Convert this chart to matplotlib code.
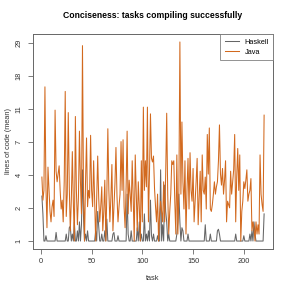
import numpy as np
import matplotlib as mpl
mpl.use('Agg')
import matplotlib.pyplot as plt

plt.rcParams['font.family'] = ['Liberation Sans', 'DejaVu Sans']

# mean lines of code per task
haskell = [2.7, 1.9, 1.0, 1.0, 1.15, 1.0, 1.0, 1.0, 1.0, 1.0,
           1.0, 1.0, 1.0, 1.0, 1.25, 1.0, 1.0, 1.0, 1.0, 1.0,
           1.0, 1.0, 1.0, 1.0, 1.2, 1.0, 1.0, 1.4, 1.45, 1.0,
           1.2, 1.0, 1.6, 1.0, 1.0, 1.3, 1.0, 1.6, 1.0, 1.5,
           4.3, 1.8, 1.0, 1.2, 1.0, 1.3, 1.0, 1.0, 1.0, 1.0,
           1.0, 1.0, 1.0, 1.3, 1.0, 2.0, 1.45, 1.0, 1.0, 1.2,
           1.0, 1.0, 1.3, 1.0, 1.7, 1.0, 1.0, 1.0, 1.0, 1.0,
           1.2, 1.25, 1.0, 1.0, 1.0, 1.15, 1.0, 1.0, 1.0, 1.0,
           1.0, 1.0, 1.0, 1.0, 2.8, 1.2, 1.0, 1.0, 1.3, 1.0,
           1.0, 1.0, 1.0, 1.0, 1.4, 1.0, 1.6, 1.0, 1.2, 1.0,
           1.0, 1.9, 1.0, 1.2, 1.0, 1.3, 1.0, 2.5, 1.15, 1.0,
           1.2, 1.0, 1.0, 1.0, 1.15, 1.0, 1.0, 4.3, 1.0, 1.5,
           1.0, 3.3, 2.0, 1.6, 1.0, 1.2, 1.0, 1.0, 1.0, 1.0,
           1.0, 1.0, 1.0, 1.2, 1.6, 2.8, 1.6, 1.0, 1.4, 1.3,
           1.0, 1.0, 1.0, 1.0, 1.2, 1.0, 1.0, 1.0, 1.0, 1.0,
           1.0, 1.0, 1.0, 1.0, 1.0, 1.0, 1.0, 1.0, 1.0, 1.0,
           1.0, 1.5, 1.0, 1.0, 1.0, 1.0, 1.2, 1.0, 1.0, 1.0,
           1.0, 1.0, 1.0, 1.3, 1.35, 1.2, 1.0, 1.0, 1.0, 1.0,
           1.0, 1.0, 1.0, 1.0, 1.0, 1.0, 1.0, 1.0, 1.0, 1.0,
           1.0, 1.2, 1.0, 1.0, 1.0, 1.0, 1.0, 1.0, 1.0, 1.15,
           1.0, 1.0, 1.0, 1.0, 1.0, 1.2, 1.0, 1.3, 1.0, 1.6,
           1.2, 1.0, 1.0, 1.0, 1.0, 1.0, 1.0, 1.0, 1.0, 1.9]

java = [3.8, 2.5, 3.0, 15.5, 3.2, 1.4, 4.5, 3.0, 2.0, 1.6,
        2.2, 2.5, 1.8, 11.0, 4.2, 3.5, 4.0, 4.6, 3.0, 2.1,
        2.5, 1.6, 3.5, 14.5, 1.8, 2.8, 10.6, 3.2, 1.3, 2.5,
        5.8, 2.4, 1.0, 10.0, 3.0, 1.5, 2.6, 8.0, 3.5, 1.9,
        28.0, 3.0, 1.0, 3.5, 7.2, 2.2, 3.0, 2.6, 7.5, 3.0,
        2.2, 5.0, 2.4, 1.0, 2.5, 5.4, 2.6, 1.6, 2.2, 3.2,
        1.3, 2.0, 3.6, 1.0, 2.8, 8.3, 3.0, 1.6, 2.6, 4.7,
        1.3, 2.2, 3.4, 6.2, 2.7, 1.6, 2.2, 2.8, 6.8, 3.0,
        7.0, 2.2, 1.4, 3.2, 8.0, 1.9, 3.6, 2.8, 2.0, 5.0,
        2.6, 1.0, 5.5, 2.8, 1.3, 3.5, 2.2, 1.0, 5.0, 1.6,
        11.5, 3.0, 5.0, 3.2, 11.5, 1.6, 4.0, 10.4, 5.2, 4.9,
        5.4, 3.1, 2.2, 1.6, 2.8, 1.0, 1.9, 2.45, 2.0, 1.6,
        3.5, 1.6, 4.0, 10.5, 2.8, 1.2, 2.0, 2.8, 5.0, 4.7,
        5.0, 2.4, 1.2, 5.5, 1.2, 3.0, 29.5, 2.8, 9.2, 3.5,
        2.1, 5.0, 1.2, 3.0, 5.2, 2.1, 5.7, 3.0, 2.45, 4.4,
        1.6, 2.4, 3.5, 5.2, 1.5, 2.6, 4.2, 1.6, 5.5, 3.0,
        2.8, 3.8, 2.1, 7.6, 4.0, 8.4, 2.1, 2.0, 2.3, 2.8,
        3.5, 2.8, 3.2, 3.5, 5.0, 8.8, 4.0, 3.3, 4.4, 2.8,
        3.6, 5.0, 1.6, 2.45, 2.3, 2.15, 4.2, 2.8, 3.5, 4.3,
        7.6, 1.6, 3.8, 6.1, 3.0, 5.5, 1.0, 2.0, 2.45, 3.5,
        3.1, 3.6, 4.3, 2.45, 2.8, 3.0, 3.7, 1.3, 1.6, 1.4,
        1.0, 1.6, 1.2, 1.5, 1.2, 5.5, 2.8, 2.3, 2.0, 10.2]

task = np.arange(1, len(java) + 1)
ytick_labels = ['1', '2', '4', '7', '11', '18', '29']
xticks = [0, 50, 100, 150, 200]

fig = plt.figure(figsize=(2.91, 2.91), dpi=100)
ax = fig.add_axes([33/291, 1 - 249/291, 240/291, 215/291])

ax.plot(task, haskell, color='#666666', lw=0.75, label='Haskell')
ax.plot(task, java, color='#D2691E', lw=0.75, label='Java')

ax.set_yscale('function', functions=(np.log1p, np.expm1))

# R style 4% padding
lo, hi = np.log1p(min(haskell + java)), np.log1p(max(haskell + java))
pad = 0.04 * (hi - lo)
ax.set_ylim(np.expm1(lo - pad), np.expm1(hi + pad))
xpad = 0.04 * (task[-1] - task[0])
ax.set_xlim(task[0] - xpad, task[-1] + xpad)

# y ticks evenly spaced on the log(1+y) axis, labelled rounded
ypos = np.expm1(np.linspace(np.log1p(1), np.log1p(29), len(ytick_labels)))
ax.set_yticks(ypos)
ax.set_yticklabels(ytick_labels, rotation=90, va='center')
ax.minorticks_off()
ax.set_xticks(xticks)

edge = '#666666'
for s in ax.spines.values():
    s.set_color(edge)
    s.set_linewidth(0.7)
ax.tick_params(colors=edge, labelcolor='#333333', length=3.5, width=0.6,
               labelsize=5.3, pad=3)
ax.tick_params(axis='y', pad=4)

ax.set_xlabel('task', fontsize=5.3, color='#333333')
ax.xaxis.set_label_coords(0.5, -0.135)
ax.xaxis.label.set_va('center')
ax.set_ylabel('lines of code (mean)', fontsize=5.3, color='#333333')
ax.yaxis.set_label_coords(-0.1, 0.5)
ax.yaxis.label.set_va('center')

fig.text(153/291, 1 - 16/291, 'Conciseness: tasks compiling successfully',
         ha='center', va='center', fontsize=6.2, fontweight='bold')

leg = ax.legend(loc='upper right', fontsize=5.3, frameon=True, fancybox=False,
                borderaxespad=0, handlelength=2.0, borderpad=0.6,
                labelspacing=0.4, handletextpad=0.7)
leg.get_frame().set_edgecolor('#777777')
leg.get_frame().set_linewidth(0.7)

fig.savefig('out.png', dpi=100)
